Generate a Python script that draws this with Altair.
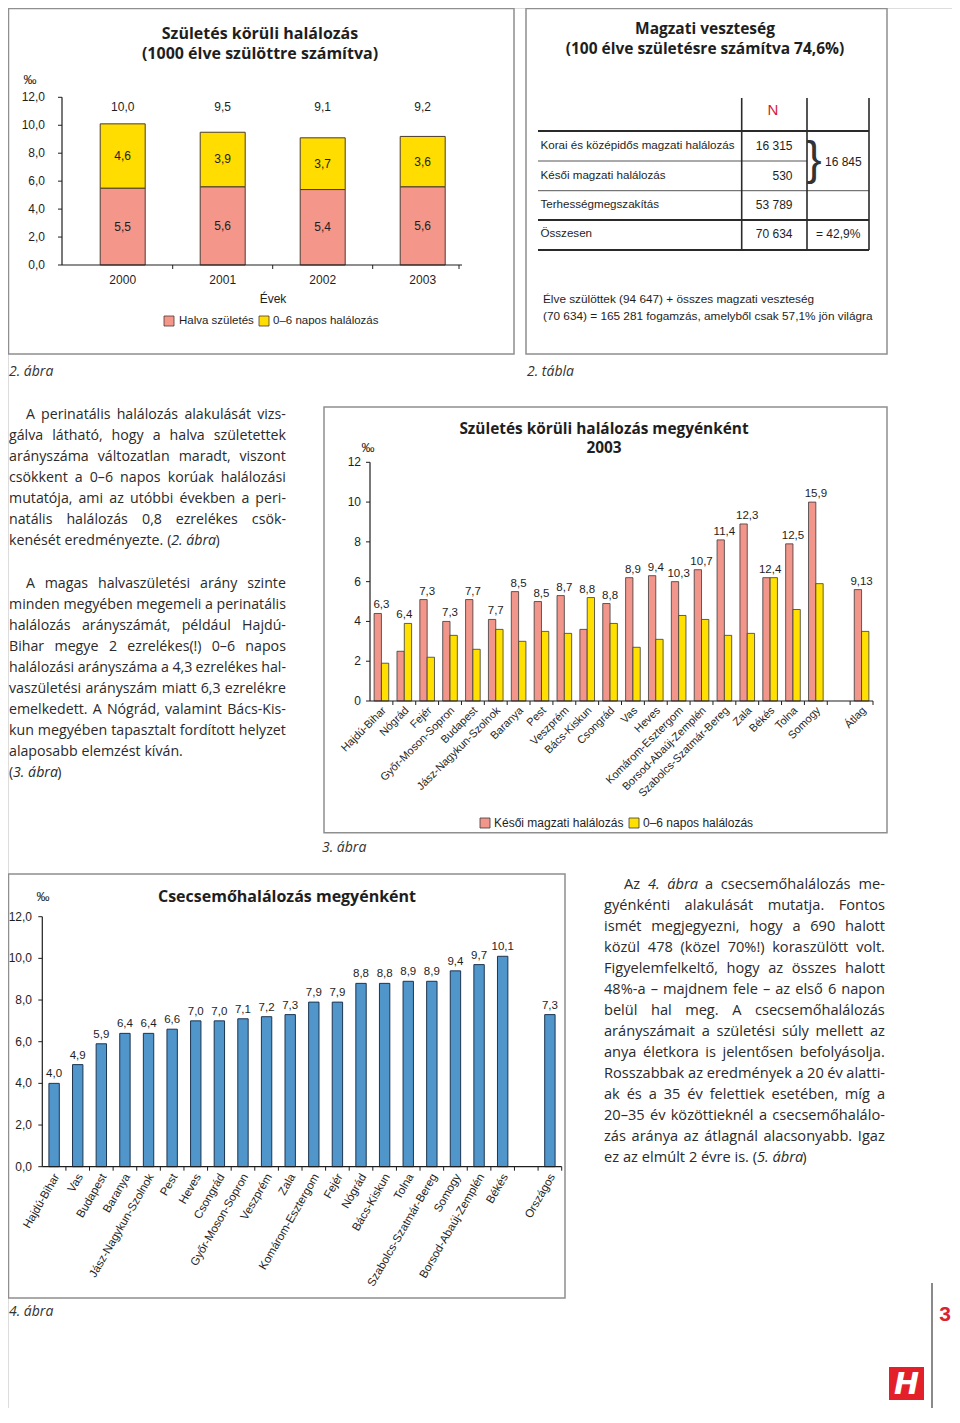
import unicodedata
import altair as alt
import pandas as pd

# ---------------- data ----------------
# 2. ábra – Születés körüli halálozás
evek = ["2000", "2001", "2002", "2003"]
halva_szuletes = [5.5, 5.6, 5.4, 5.6]
napos_06 = [4.6, 3.9, 3.7, 3.6]
osszes_1 = ["10,0", "9,5", "9,1", "9,2"]
y_ertekek_1 = [0, 2, 4, 6, 8, 10, 12]
y_cimkek_1 = ["0,0", "2,0", "4,0", "6,0", "8,0", "10,0", "12,0"]

# 2. tábla – Magzati veszteség
tabla_sorok = ["Korai és középidős magzati halálozás", "Késői magzati halálozás",
               "Terhességmegszakítás", "Összesen"]
tabla_n = ["16 315", "530", "53 789", "70 634"]

# 3. ábra – Születés körüli halálozás megyénként 2003
megyek_3 = ["Hajdú-Bihar", "Nógrád", "Fejér", "Győr-Moson-Sopron", "Budapest",
            "Jász-Nagykun-Szolnok", "Baranya", "Pest", "Veszprém", "Bács-Kiskun",
            "Csongrád", "Vas", "Heves", "Komárom-Esztergom", "Borsod-Abaúj-Zemplén",
            "Szabolcs-Szatmár-Bereg", "Zala", "Békés", "Tolna", "Somogy", "Átlag"]
kesoi_magzati_3 = [4.4, 2.5, 5.1, 4.0, 5.1, 4.1, 5.5, 5.0, 5.3, 3.6, 4.9,
                   6.2, 6.3, 6.0, 6.6, 8.1, 8.9, 6.2, 7.9, 10.0, 5.6]
napos_06_3 = [1.9, 3.9, 2.2, 3.3, 2.6, 3.6, 3.0, 3.5, 3.4, 5.2, 3.9,
              2.7, 3.1, 4.3, 4.1, 3.3, 3.4, 6.2, 4.6, 5.9, 3.5]
osszes_3 = ["6,3", "6,4", "7,3", "7,3", "7,7", "7,7", "8,5", "8,5", "8,7", "8,8", "8,8",
            "8,9", "9,4", "10,3", "10,7", "11,4", "12,3", "12,4", "12,5", "15,9", "9,13"]
y_ertekek_3 = [0, 2, 4, 6, 8, 10, 12]
y_cimkek_3 = ["0", "2", "4", "6", "8", "10", "12"]
sorozat_3 = ["Késői magzati halálozás", "0–6 napos halálozás"]

# 4. ábra – Csecsemőhalálozás megyénként
megyek_4 = ["Hajdú-Bihar", "Vas", "Budapest", "Baranya", "Jász-Nagykun-Szolnok", "Pest",
            "Heves", "Csongrád", "Győr-Moson-Sopron", "Veszprém", "Zala",
            "Komárom-Esztergom", "Fejér", "Nógrád", "Bács-Kiskun", "Tolna",
            "Szabolcs-Szatmár-Bereg", "Somogy", "Borsod-Abaúj-Zemplén", "Békés", "Országos"]
csecsemo_4 = [4.0, 4.9, 5.9, 6.4, 6.4, 6.6, 7.0, 7.0, 7.1, 7.2, 7.3,
              7.9, 7.9, 8.8, 8.8, 8.9, 8.9, 9.4, 9.7, 10.1, 7.3]
y_ertekek_4 = [0, 2, 4, 6, 8, 10, 12]
y_cimkek_4 = ["0,0", "2,0", "4,0", "6,0", "8,0", "10,0", "12,0"]

# body text (_..._ = italic, a trailing "|" = line not justified)
bekezdes_1 = ["A perinatális halálozás alakulását vizs-",
              "gálva látható, hogy a halva születettek",
              "arányszáma változatlan maradt, viszont",
              "csökkent a 0–6 napos korúak halálozási",
              "mutatója, ami az utóbbi években a peri-",
              "natális halálozás 0,8 ezrelékes csök-",
              "kenését eredményezte. (_2. ábra_)|"]
bekezdes_2 = ["A magas halvaszületési arány szinte",
              "minden megyében megemeli a perinatális",
              "halálozás arányszámát, például Hajdú-",
              "Bihar megye 2 ezrelékes(!) 0–6 napos",
              "halálozási arányszáma a 4,3 ezrelékes hal-",
              "vaszületési arányszám miatt 6,3 ezrelékre",
              "emelkedett. A Nógrád, valamint Bács-Kis-",
              "kun megyében tapasztalt fordított helyzet",
              "alaposabb elemzést kíván.|",
              "(_3. ábra_)|"]
bekezdes_3 = ["Az _4. ábra_ a csecsemőhalálozás me-",
              "gyénkénti alakulását mutatja. Fontos",
              "ismét megjegyezni, hogy a 690 halott",
              "közül 478 (közel 70%!) koraszülött volt.",
              "Figyelemfelkeltő, hogy az összes halott",
              "48%-a – majdnem fele – az első 6 napon",
              "belül hal meg. A csecsemőhalálozás",
              "arányszámait a születési súly mellett az",
              "anya életkora is jelentősen befolyásolja.",
              "Rosszabbak az eredmények a 20 év alatti-",
              "ak és a 35 év felettiek esetében, míg a",
              "20–35 év közöttieknél a csecsemőhalálo-",
              "zás aránya az átlagnál alacsonyabb. Igaz",
              "ez az elmúlt 2 évre is. (_5. ábra_)|"]

# ---------------- styling ----------------
OFF = 8
def P(v):
    return v - OFF

NARROW = "Liberation Sans Narrow, Arial Narrow, Liberation Sans, sans-serif"
BODY = "Open Sans, Noto Sans, sans-serif"
TITLE = "Open Sans, Noto Sans, sans-serif"
INK = "#1e1e1e"
TXT = "#2a2a2a"
FRAME = "#8f8f8f"
RED1 = "#F4968A"
YEL1 = "#FFDD00"
RED3 = "#F2958A"
YEL3 = "#FFE000"
BLUE = "#5096CB"
ONE = pd.DataFrame({"k": [0]})

def hu(v, d=1):
    return f"{v:.{d}f}".replace(".", ",")

# approximate Open Sans advance widths (units of 2048/em) for text justification
_W = {" ": 532, "!": 547, "%": 1704, "(": 578, ")": 578, ",": 502, "-": 659, ".": 545,
      ":": 545, "–": 1024,
      "A": 1296, "B": 1327, "C": 1292, "D": 1493, "E": 1139, "F": 1057, "G": 1491,
      "H": 1511, "I": 571, "J": 547, "K": 1257, "L": 1068, "M": 1849, "N": 1544,
      "O": 1595, "P": 1233, "Q": 1595, "R": 1266, "S": 1124, "T": 1133, "U": 1491,
      "V": 1219, "W": 1862, "X": 1174, "Y": 1128, "Z": 1173,
      "a": 1139, "b": 1255, "c": 975, "d": 1255, "e": 1149, "f": 694, "g": 1122,
      "h": 1257, "i": 518, "j": 518, "k": 1075, "l": 518, "m": 1905, "n": 1257,
      "o": 1237, "p": 1255, "q": 1255, "r": 836, "s": 977, "t": 723, "u": 1257,
      "v": 1026, "w": 1593, "x": 1073, "y": 1028, "z": 977}
for _d in "0123456789":
    _W[_d] = 1171

def tw(s, size, italic=False):
    tot = 0
    for ch in s:
        base = unicodedata.normalize("NFD", ch)[0]
        tot += _W.get(ch, _W.get(base, 1150))
    return tot / 2048 * size * (0.96 if italic else 1.0)

def layout(lines, left, right, indent, y0, step, size):
    rows = []
    for li, line in enumerate(lines):
        ragged = line.endswith("|")
        line = line.rstrip("|")
        words, cur, buf, ital = [], [], "", False
        for ch in line:
            if ch == "_":
                if buf:
                    cur.append((buf, ital))
                    buf = ""
                ital = not ital
            elif ch == " ":
                if buf:
                    cur.append((buf, ital))
                    buf = ""
                if cur:
                    words.append(cur)
                    cur = []
            else:
                buf += ch
        if buf:
            cur.append((buf, ital))
        if cur:
            words.append(cur)
        x0 = left + (indent if li == 0 else 0)
        widths = [sum(tw(t, size, it) for t, it in w) for w in words]
        sp = tw(" ", size)
        if ragged or len(words) < 2:
            gap = sp
        else:
            gap = max((right - x0 - sum(widths)) / (len(words) - 1), 0.75 * sp)
        x = x0
        for w, wd in zip(words, widths):
            xx = x
            for t, it in w:
                rows.append({"x": P(xx), "y": P(y0 + li * step), "t": t, "it": it})
                xx += tw(t, size, it)
            x += wd + gap
    return pd.DataFrame(rows)

layers = []

def frame(x1, y1, x2, y2, color=FRAME, sw=1.5):
    layers.append(alt.Chart(ONE).mark_rect(fillOpacity=0, stroke=color, strokeWidth=sw).encode(
        x=alt.value(P(x1)), x2=alt.value(P(x2)), y=alt.value(P(y1)), y2=alt.value(P(y2))))

def box(x1, y1, x2, y2, color):
    layers.append(alt.Chart(ONE).mark_rect(color=color).encode(
        x=alt.value(P(x1)), x2=alt.value(P(x2)), y=alt.value(P(y1)), y2=alt.value(P(y2))))

def hline(x1, x2, y, color=INK, sw=1.0):
    layers.append(alt.Chart(ONE).mark_rule(color=color, strokeWidth=sw).encode(
        x=alt.value(P(x1)), x2=alt.value(P(x2)), y=alt.value(P(y))))

def vline(x, y1, y2, color=INK, sw=1.0):
    layers.append(alt.Chart(ONE).mark_rule(color=color, strokeWidth=sw).encode(
        x=alt.value(P(x)), y=alt.value(P(y1)), y2=alt.value(P(y2))))

def text(s, x, y, size=12, font=NARROW, weight="normal", style="normal", align="left",
         color=INK, baseline="middle", angle=0):
    layers.append(alt.Chart(pd.DataFrame({"t": [s]})).mark_text(
        align=align, baseline=baseline, fontSize=size, font=font, fontWeight=weight,
        fontStyle=style, color=color, angle=angle).encode(
        x=alt.value(P(x)), y=alt.value(P(y)), text="t:N"))

def paragraph(lines, left, right, indent, y0, size, step=21.0):
    d = layout(lines, left, right, indent, y0, step, size)
    for it, style in [(False, "normal"), (True, "italic")]:
        sub = d[d["it"] == it]
        if len(sub):
            layers.append(alt.Chart(sub).mark_text(
                align="left", baseline="middle", fontSize=size, font=BODY,
                fontStyle=style, color=TXT).encode(
                x=alt.X("x:Q", scale=None, axis=None),
                y=alt.Y("y:Q", scale=None, axis=None), text="t:N"))

def y_axis(vals, labels, scale, ax_x, y_top, y_bot, label_x, size):
    d = pd.DataFrame({"v": vals, "l": labels})
    vline(ax_x, y_top, y_bot, INK, 1.2)
    layers.append(alt.Chart(d).mark_rule(color=INK, strokeWidth=1).encode(
        x=alt.value(P(ax_x - 4)), x2=alt.value(P(ax_x)),
        y=alt.Y("v:Q", scale=scale, axis=None)))
    layers.append(alt.Chart(d).mark_text(align="right", baseline="middle", fontSize=size,
                                         font=NARROW, color=INK).encode(
        x=alt.value(P(label_x)), y=alt.Y("v:Q", scale=scale, axis=None), text="l:N"))

def x_ticks(domain, rng, y0):
    sc = alt.Scale(type="band", domain=domain, range=rng, paddingInner=0, paddingOuter=0)
    d = pd.DataFrame({"c": domain[1:]})
    layers.append(alt.Chart(d).mark_rule(color=INK, strokeWidth=1).encode(
        x=alt.X("c:N", scale=sc, axis=None, bandPosition=0),
        y=alt.value(P(y0)), y2=alt.value(P(y0 + 4))))

# ================= 2. ábra =================
frame(8.5, 8.5, 514, 354)
text("Születés körüli halálozás", 260, 34, 16, TITLE, "bold", align="center")
text("(1000 élve szülöttre számítva)", 260, 54, 16, TITLE, "bold", align="center")
text("‰", 30, 80, 13, NARROW, align="center")

y1 = alt.Scale(domain=[0, 12], range=[P(265), P(97.3)], nice=False)
rng1 = [P(72.7), P(472.7)]
x1 = alt.Scale(type="band", domain=evek, range=rng1, paddingInner=0.55, paddingOuter=0.275)
d1 = pd.DataFrame({"ev": evek, "halva": halva_szuletes, "napos": napos_06, "ossz": osszes_1})
d1["felso"] = d1["halva"] + d1["napos"]
d1["halva_mid"] = d1["halva"] / 2
d1["napos_mid"] = d1["halva"] + d1["napos"] / 2
d1["halva_l"] = [hu(v) for v in halva_szuletes]
d1["napos_l"] = [hu(v) for v in napos_06]

layers.append(alt.Chart(d1).mark_bar(color=RED1, stroke="#4a3a30", strokeWidth=1).encode(
    x=alt.X("ev:N", scale=x1, axis=None), y=alt.Y("halva:Q", scale=y1, axis=None)))
layers.append(alt.Chart(d1).mark_bar(color=YEL1, stroke="#4a3a30", strokeWidth=1).encode(
    x=alt.X("ev:N", scale=x1, axis=None), y=alt.Y("felso:Q", scale=y1, axis=None),
    y2="halva:Q"))
for fld_y, fld_t in [("halva_mid", "halva_l"), ("napos_mid", "napos_l")]:
    layers.append(alt.Chart(d1).mark_text(fontSize=12, font=NARROW, color=INK).encode(
        x=alt.X("ev:N", scale=x1, axis=None, bandPosition=0.5),
        y=alt.Y(f"{fld_y}:Q", scale=y1, axis=None), text=f"{fld_t}:N"))
layers.append(alt.Chart(d1).mark_text(fontSize=12, font=NARROW, color=INK).encode(
    x=alt.X("ev:N", scale=x1, axis=None, bandPosition=0.5),
    y=alt.value(P(106.5)), text="ossz:N"))
layers.append(alt.Chart(d1).mark_text(fontSize=12, font=NARROW, color=INK).encode(
    x=alt.X("ev:N", scale=x1, axis=None, bandPosition=0.5),
    y=alt.value(P(280)), text="ev:N"))
y_axis(y_ertekek_1, y_cimkek_1, y1, 62, 97.3, 265, 45, 12)
hline(62, 462, 265, INK, 1.2)
x_ticks(evek, rng1, 265)
vline(459, 265, 269, INK, 1)
text("Évek", 273, 299, 12, NARROW, align="center")
box(164, 316, 174, 326, RED1)
frame(164, 316, 174, 326, "#4a3a30", 0.8)
text("Halva születés", 179, 321, 11.5, NARROW)
box(259, 316, 269, 326, YEL1)
frame(259, 316, 269, 326, "#4a3a30", 0.8)
text("0–6 napos halálozás", 273, 321, 11.5, NARROW)
text("2. ábra", 9, 372, 14, BODY, style="italic", color="#333")

# ================= 2. tábla =================
frame(526, 8.5, 887, 354)
text("Magzati veszteség", 705, 29, 15.5, TITLE, "bold", align="center")
text("(100 élve születésre számítva 74,6%)", 705, 48.5, 15.5, TITLE, "bold", align="center")
text("N", 773, 110, 15, NARROW, color="#d4213a", align="center")
for vx in [741.7, 807, 869]:
    vline(vx, 98, 250, "#2a2a2a", 1.6)
hline(538, 869, 131, "#2a2a2a", 2)
hline(538, 807, 161, "#2a2a2a", 0.8)
hline(538, 869, 190.7, "#2a2a2a", 0.8)
hline(538, 869, 220, "#2a2a2a", 2)
hline(538, 869, 250, "#2a2a2a", 2)
t_ys = [146, 175.7, 204.7, 234]
for s, n, ty in zip(tabla_sorok, tabla_n, t_ys):
    text(s, 540.5, ty, 11.6, NARROW)
    text(n, 792.5, ty, 12, NARROW, align="right")
text("}", 814, 160, 46, "Liberation Sans", align="center", color="#333")
text("16 845", 825, 162, 12, NARROW)
text("= 42,9%", 816, 234, 12, NARROW)
text("Élve szülöttek (94 647) + összes magzati veszteség", 543, 299, 11.8, NARROW)
text("(70 634) = 165 281 fogamzás, amelyből csak 57,1% jön világra", 543, 316, 11.8, NARROW)
text("2. tábla", 527, 372, 14, BODY, style="italic", color="#333")

# ================= left text =================
paragraph(bekezdes_1, 9, 286, 17, 415, 14.2)
paragraph(bekezdes_2, 9, 286, 17, 584, 14.2)

# ================= 3. ábra =================
frame(324, 407, 887, 832.7)
text("Születés körüli halálozás megyénként", 604, 429, 15.4, TITLE, "bold", align="center")
text("2003", 604, 448, 15.4, TITLE, "bold", align="center")
text("‰", 368, 448, 13, NARROW, align="center")
dom3 = megyek_3[:-1] + [" "] + megyek_3[-1:]
rng3 = [P(370), P(873)]
x3 = alt.Scale(type="band", domain=dom3, range=rng3, paddingInner=0.36, paddingOuter=0.18)
x3l = alt.Scale(type="band", domain=dom3, range=[P(373), P(876)], paddingInner=0.36, paddingOuter=0.18)
y3 = alt.Scale(domain=[0, 12], range=[P(701), P(462.3)], nice=False)
long3 = pd.DataFrame({
    "megye": megyek_3 * 2,
    "sorozat": [sorozat_3[0]] * len(megyek_3) + [sorozat_3[1]] * len(megyek_3),
    "ertek": kesoi_magzati_3 + napos_06_3})
layers.append(alt.Chart(long3).mark_bar(stroke="#3a3a3a", strokeWidth=0.8).encode(
    x=alt.X("megye:N", scale=x3, axis=None),
    xOffset=alt.XOffset("sorozat:N", scale=alt.Scale(domain=sorozat_3)),
    y=alt.Y("ertek:Q", scale=y3, axis=None),
    color=alt.Color("sorozat:N", scale=alt.Scale(domain=sorozat_3, range=[RED3, YEL3]),
                    legend=None)))
d3 = pd.DataFrame({"megye": megyek_3, "ossz": osszes_3,
                   "fent": [max(a, b) for a, b in zip(kesoi_magzati_3, napos_06_3)]})
layers.append(alt.Chart(d3).mark_text(fontSize=11.5, font=NARROW, color=INK, baseline="bottom",
                                      dy=-3).encode(
    x=alt.X("megye:N", scale=x3, axis=None, bandPosition=0.5),
    y=alt.Y("fent:Q", scale=y3, axis=None), text="ossz:N"))
layers.append(alt.Chart(d3).mark_text(fontSize=11, font=NARROW, color=INK, align="right",
                                      baseline="middle", angle=315).encode(
    x=alt.X("megye:N", scale=x3l, axis=None, bandPosition=0.5),
    y=alt.value(P(709)), text="megye:N"))
y_axis(y_ertekek_3, y_cimkek_3, y3, 370, 462.3, 701, 361, 12)
hline(370, 873, 701, INK, 1.2)
x_ticks(dom3, rng3, 701)
vline(873, 701, 705, INK, 1)
box(480, 818, 490, 828, RED3)
frame(480, 818, 490, 828, "#3a3a3a", 0.8)
text("Késői magzati halálozás", 494, 823, 12, NARROW)
box(629, 818, 639, 828, YEL3)
frame(629, 818, 639, 828, "#3a3a3a", 0.8)
text("0–6 napos halálozás", 643, 823, 12, NARROW)
text("3. ábra", 322, 848, 14, BODY, style="italic", color="#333")

# ================= 4. ábra =================
frame(8.5, 874, 565, 1298)
text("Csecsemőhalálozás megyénként", 287, 897, 16, TITLE, "bold", align="center")
text("‰", 43, 897, 13, NARROW, align="center")
dom4 = megyek_4[:-1] + [" "] + megyek_4[-1:]
rng4 = [P(42.3), P(561.7)]
x4 = alt.Scale(type="band", domain=dom4, range=rng4, paddingInner=0.56, paddingOuter=0.28)
x4l = alt.Scale(type="band", domain=dom4, range=[P(45.3), P(564.7)], paddingInner=0.56, paddingOuter=0.28)
y4 = alt.Scale(domain=[0, 12], range=[P(1166.7), P(916.7)], nice=False)
d4 = pd.DataFrame({"megye": megyek_4, "ertek": csecsemo_4,
                   "cimke": [hu(v) for v in csecsemo_4]})
layers.append(alt.Chart(d4).mark_bar(color=BLUE, stroke="#1d3550", strokeWidth=1).encode(
    x=alt.X("megye:N", scale=x4, axis=None), y=alt.Y("ertek:Q", scale=y4, axis=None)))
layers.append(alt.Chart(d4).mark_text(fontSize=11.5, font=NARROW, color=INK, baseline="bottom",
                                      dy=-4).encode(
    x=alt.X("megye:N", scale=x4, axis=None, bandPosition=0.5),
    y=alt.Y("ertek:Q", scale=y4, axis=None), text="cimke:N"))
layers.append(alt.Chart(d4).mark_text(fontSize=11.5, font=NARROW, color=INK, align="right",
                                      baseline="middle", angle=300).encode(
    x=alt.X("megye:N", scale=x4l, axis=None, bandPosition=0.5),
    y=alt.value(P(1175)), text="megye:N"))
y_axis(y_ertekek_4, y_cimkek_4, y4, 42.3, 916.7, 1166.7, 32, 12)
hline(42.3, 561.7, 1166.7, INK, 1.2)
x_ticks(dom4, rng4, 1166.7)
vline(561.7, 1166.7, 1170.7, INK, 1)
text("4. ábra", 9, 1312, 14, BODY, style="italic", color="#333")

# ================= right text =================
paragraph(bekezdes_3, 604, 885, 20, 885, 14.6)

# ================= page furniture =================
vline(932, 1283, 1423, "#8a8a8a", 2)
text("3", 945, 1315, 21, "Liberation Sans", "bold", align="center", color="#d8232d")
box(889, 1367, 924, 1400, "#e3202a")
text("H", 906.5, 1385, 30, "DejaVu Sans", "bold", style="italic", align="center", color="white")

chart = alt.layer(*layers).resolve_scale(
    x="independent", y="independent", color="independent", xOffset="independent"
).properties(
    width=944, height=1400, padding=0, autosize=alt.AutoSizeParams(type="none")
).configure_view(stroke=None).configure(background="white")

chart.save("out.html", embed_options={"renderer": "svg", "actions": False})
